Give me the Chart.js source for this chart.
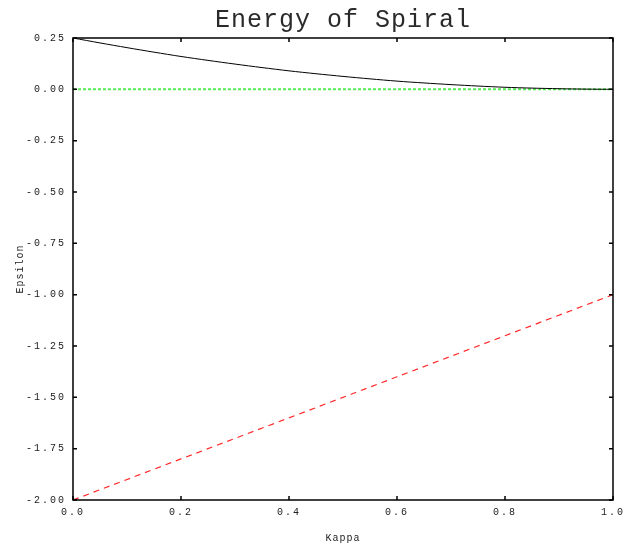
<!DOCTYPE html>
<html>
<head>
<meta charset="utf-8">
<title>Energy of Spiral</title>
<script src="https://cdn.jsdelivr.net/npm/chart.js@4.4.1/dist/chart.umd.min.js"></script>
<style>
    html, body { margin: 0; padding: 0; background: #fff; }
    canvas { display: block; }
</style>
</head>
<body>
<canvas id="spiral" width="631" height="546"></canvas>
<script>
// values
const kappa = [0, 0.05, 0.1, 0.15, 0.2, 0.25, 0.3, 0.35, 0.4, 0.45, 0.5,
               0.55, 0.6, 0.65, 0.7, 0.75, 0.8, 0.85, 0.9, 0.95, 1.0];
const energyCurve = [0.250, 0.226, 0.203, 0.181, 0.160, 0.141, 0.123, 0.106, 0.090, 0.076, 0.063,
                     0.051, 0.040, 0.031, 0.023, 0.016, 0.010, 0.006, 0.003, 0.001, 0.000];
const zeroKappa = [0, 1];
const zeroLine = [0, 0];
const lowerKappa = [0, 0.2, 0.4, 0.6, 0.8, 1.0];
const lowerLine = [-2.0, -1.8, -1.6, -1.4, -1.2, -1.0];

const monoFont = "'Liberation Mono', 'DejaVu Sans Mono', monospace";

function toPoints(xs, ys) {
    return xs.map((x, i) => ({ x: x, y: ys[i] }));
}

// gnuplot-like frame with inward tick marks on all four sides
const framePlugin = {
    id: 'frame',
    beforeUpdate(chart) {
        chart.ctx.letterSpacing = '2px';
    },
    beforeDraw(chart) {
        // titles are drawn in the z=0 layers
        chart.ctx.letterSpacing = '1px';
    },
    beforeDatasetsDraw(chart) {
        // tick labels are drawn afterwards (ticks.z = 1)
        chart.ctx.letterSpacing = '2px';
    },
    afterDraw(chart) {
        const { ctx, chartArea: a, scales } = chart;
        const len = 4;
        ctx.save();
        ctx.strokeStyle = '#000';
        ctx.lineWidth = 1.5;
        ctx.strokeRect(a.left, a.top, a.right - a.left, a.bottom - a.top);
        ctx.beginPath();
        scales.x.ticks.forEach(t => {
            const px = scales.x.getPixelForValue(t.value);
            ctx.moveTo(px, a.bottom);
            ctx.lineTo(px, a.bottom - len);
            ctx.moveTo(px, a.top);
            ctx.lineTo(px, a.top + len);
        });
        scales.y.ticks.forEach(t => {
            const py = scales.y.getPixelForValue(t.value);
            ctx.moveTo(a.left, py);
            ctx.lineTo(a.left + len, py);
            ctx.moveTo(a.right, py);
            ctx.lineTo(a.right - len, py);
        });
        ctx.stroke();
        ctx.restore();
    }
};

new Chart(document.getElementById('spiral'), {
    type: 'line',
    data: {
        datasets: [
            {
                data: toPoints(kappa, energyCurve),
                borderColor: '#000',
                borderWidth: 1,
                pointRadius: 0,
                tension: 0.3
            },
            {
                data: toPoints(zeroKappa, zeroLine),
                borderColor: '#55ee55',
                borderWidth: 2,
                borderDash: [3, 2],
                pointRadius: 0
            },
            {
                data: toPoints(lowerKappa, lowerLine),
                borderColor: '#ff2a2a',
                borderWidth: 1.2,
                borderDash: [6, 5],
                pointRadius: 0
            }
        ]
    },
    options: {
        responsive: false,
        animation: false,
        devicePixelRatio: 1,
        layout: { padding: { left: 0, right: 18, top: 0, bottom: 0 } },
        plugins: {
            legend: { display: false },
            tooltip: { enabled: false },
            title: {
                display: true,
                text: 'Energy of Spiral',
                fullSize: false,
                color: '#2a2a2a',
                font: { family: monoFont, size: 25, weight: 'normal', lineHeight: 1.2 },
                padding: { top: 5.5, bottom: 2.5 }
            }
        },
        scales: {
            x: {
                type: 'linear',
                min: 0,
                max: 1,
                afterFit(scale) { scale.height = 46; },
                grid: { display: false, drawTicks: false },
                border: { display: false },
                ticks: {
                    z: 1,
                    stepSize: 0.2,
                    padding: 6,
                    color: '#222',
                    font: { family: monoFont, size: 10 },
                    callback: v => v.toFixed(1)
                },
                title: {
                    display: true,
                    text: 'Kappa',
                    color: '#222',
                    font: { family: monoFont, size: 10 },
                    padding: { top: 0, bottom: 2 }
                }
            },
            y: {
                type: 'linear',
                min: -2,
                max: 0.25,
                afterFit(scale) { scale.width = 73; },
                grid: { display: false, drawTicks: false },
                border: { display: false },
                ticks: {
                    z: 1,
                    stepSize: 0.25,
                    padding: 7,
                    color: '#222',
                    font: { family: monoFont, size: 10 },
                    callback: v => v.toFixed(2)
                },
                title: {
                    display: true,
                    text: 'Epsilon',
                    color: '#222',
                    font: { family: monoFont, size: 10 },
                    padding: { top: 14, bottom: 0 }
                }
            }
        }
    },
    plugins: [framePlugin]
});
</script>
</body>
</html>
